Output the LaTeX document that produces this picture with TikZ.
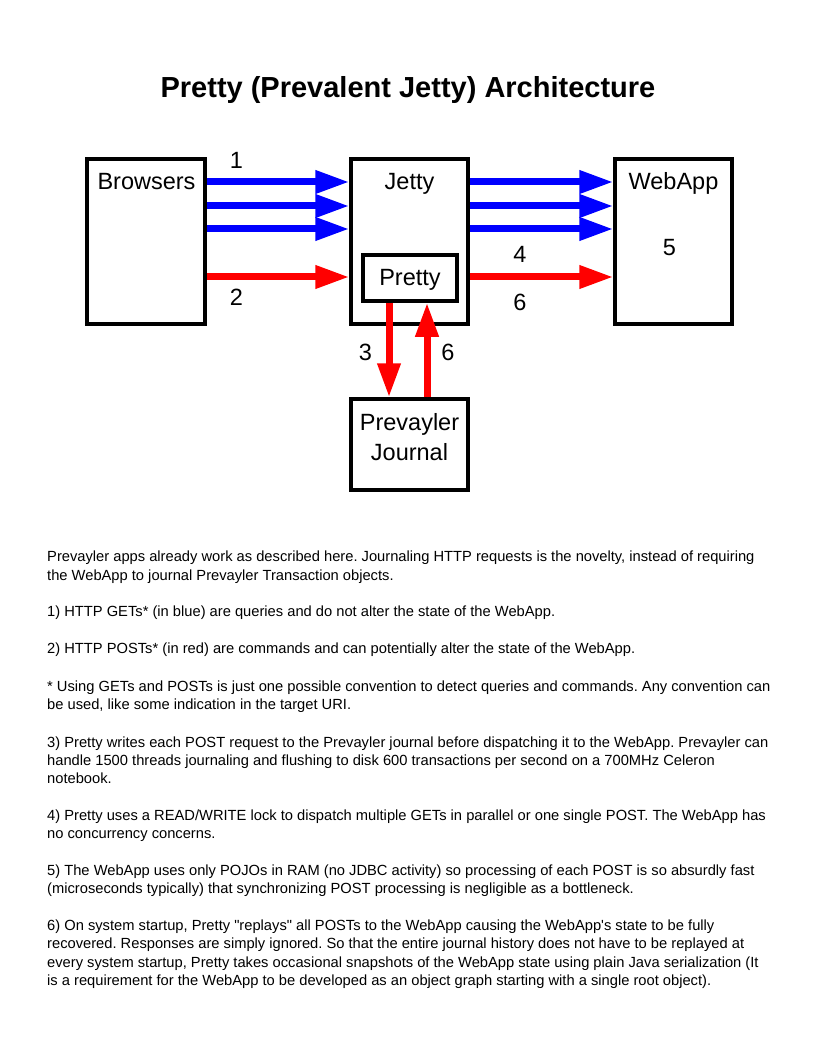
\documentclass[tikz,border=0pt]{standalone}
\usepackage{fontspec}
\setmainfont{Liberation Sans}
\usetikzlibrary{arrows.meta}
\frenchspacing
\begin{document}
\begin{tikzpicture}[x=1pt,y=-1pt,
 box/.style={draw=black, line width=3.5pt, rectangle, inner sep=0pt},
 lbl/.style={anchor=base, font=\fontsize{23.5}{28}\selectfont, inner sep=0pt},
 body/.style={anchor=base west, font=\fontsize{14.7}{18}\selectfont, inner sep=0pt},
 flow/.style={line width=7pt, -{Triangle[length=34pt,width=22pt]}},
 get/.style={flow, draw=blue, fill=blue},
 post/.style={flow, draw=red, fill=red}]
\useasboundingbox (0,0) rectangle (816,1056);

\node[anchor=base, inner sep=0pt, font=\fontsize{29}{34}\selectfont\bfseries] (title) at (408,97.5) {Pretty (Prevalent Jetty) Architecture};

% boxes
\node[box, minimum width=118pt, minimum height=165pt] (browsers) at (146,241.5) {};
\node[box, minimum width=117pt, minimum height=165pt] (jetty) at (409.5,241.5) {};
\node[box, minimum width=94pt, minimum height=46pt] (pretty) at (410,278) {};
\node[box, minimum width=117pt, minimum height=165pt] (webapp) at (673.5,241.5) {};
\node[box, minimum width=117pt, minimum height=91pt] (journal) at (409.5,444.5) {};

% box texts
\node[lbl] (tbrowsers) at (146.5,190) {Browsers};
\node[lbl] (tjetty) at (409.5,190) {Jetty};
\node[lbl] (twebapp) at (673.5,190) {WebApp};
\node[lbl] (tpretty) at (410,285.5) {Pretty};
\node[lbl] (tprev) at (409.5,430) {Prevayler};
\node[lbl] (tjournal) at (409.5,460) {Journal};

% numbers
\node[lbl] (n1) at (236.5,169) {1};
\node[lbl] (n2) at (236.5,305.5) {2};
\node[lbl] (n4) at (520,262.5) {4};
\node[lbl] (n6a) at (520,310.5) {6};
\node[lbl] (n5) at (669.5,256) {5};
\node[lbl] (n3) at (365.5,360) {3};
\node[lbl] (n6b) at (448,360) {6};

% connectors
\draw[get] (browsers.east |- 0,182) -- (jetty.west |- 0,182);
\draw[get] (browsers.east |- 0,206) -- (jetty.west |- 0,206);
\draw[get] (browsers.east |- 0,229) -- (jetty.west |- 0,229);
\draw[post] (browsers.east |- 0,277) -- (jetty.west |- 0,277);
\draw[get] (jetty.east |- 0,182) -- (webapp.west |- 0,182);
\draw[get] (jetty.east |- 0,206) -- (webapp.west |- 0,206);
\draw[get] (jetty.east |- 0,229) -- (webapp.west |- 0,229);
\draw[post] (jetty.east |- 0,277) -- (webapp.west |- 0,277);
\draw[post] (pretty.south -| 389,0) -- (journal.north -| 389,0);
\draw[post] (journal.north -| 427,0) -- (pretty.south -| 427,0);

% body text
\node[body] (l1) at (47,561) {Prevayler apps already work as described here. Journaling HTTP requests is the novelty, instead of requiring};
\node[body] (l2) at (47,580) {the WebApp to journal Prevayler Transaction objects.};
\node[body] (l3) at (47,616) {1) HTTP GETs* (in blue) are queries and do not alter the state of the WebApp.};
\node[body] (l4) at (47,653) {2) HTTP POSTs* (in red) are commands and can potentially alter the state of the WebApp.};
\node[body] (l5) at (47,691) {* Using GETs and POSTs is just one possible convention to detect queries and commands. Any convention can};
\node[body] (l6) at (47,709) {be used, like some indication in the target URI.};
\node[body] (l7) at (47,747) {3) Pretty writes each POST request to the Prevayler journal before dispatching it to the WebApp. Prevayler can};
\node[body] (l8) at (47,765) {handle 1500 threads journaling and flushing to disk 600 transactions per second on a 700MHz Celeron};
\node[body] (l9) at (47,783) {notebook.};
\node[body] (l10) at (47,820) {4) Pretty uses a READ/WRITE lock to dispatch multiple GETs in parallel or one single POST. The WebApp has};
\node[body] (l11) at (47,838) {no concurrency concerns.};
\node[body] (l12) at (47,875) {5) The WebApp uses only POJOs in RAM (no JDBC activity) so processing of each POST is so absurdly fast};
\node[body] (l13) at (47,893) {(microseconds typically) that synchronizing POST processing is negligible as a bottleneck.};
\node[body] (l14) at (47,930) {6) On system startup, Pretty \textquotedbl replays\textquotedbl{} all POSTs to the WebApp causing the WebApp\textquotesingle s state to be fully};
\node[body] (l15) at (47,948) {recovered. Responses are simply ignored. So that the entire journal history does not have to be replayed at};
\node[body] (l16) at (47,967) {every system startup, Pretty takes occasional snapshots of the WebApp state using plain Java serialization (It};
\node[body] (l17) at (47,985) {is a requirement for the WebApp to be developed as an object graph starting with a single root object).};
\end{tikzpicture}
\end{document}
